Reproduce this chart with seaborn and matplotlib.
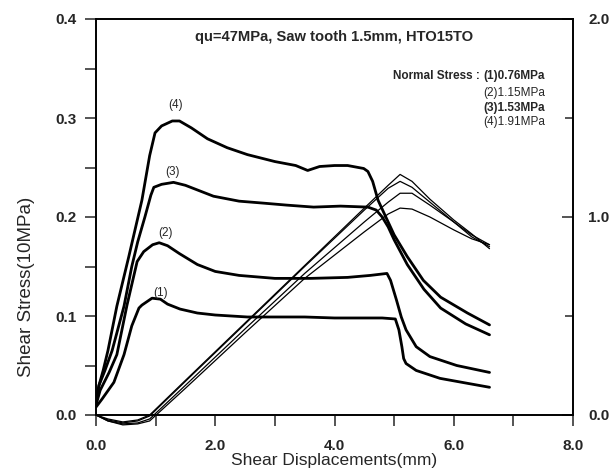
import numpy as np
import pandas as pd
import matplotlib
matplotlib.use("Agg")
import matplotlib.pyplot as plt
import seaborn as sns
from matplotlib.ticker import FixedLocator

# ---- data ----
# shear stress curves (10MPa) vs shear displacement (mm)
c1_x = [0, 0.1, 0.3, 0.47, 0.6, 0.72, 0.77, 0.94, 1.08, 1.2, 1.41, 1.7, 2.0, 2.54, 3.0, 3.5, 4.0, 4.49, 4.8, 5.02,
        5.08, 5.13, 5.16, 5.2, 5.37, 5.77, 6.23, 6.6]
c1_y = [0.008, 0.016, 0.033, 0.061, 0.09, 0.108, 0.111, 0.118, 0.117, 0.112, 0.107, 0.103, 0.101, 0.099, 0.099, 0.099,
        0.098, 0.098, 0.098, 0.097, 0.086, 0.069, 0.057, 0.052, 0.045, 0.037, 0.032, 0.028]

c2_x = [0, 0.07, 0.22, 0.35, 0.52, 0.69, 0.8, 0.95, 1.06, 1.2, 1.4, 1.7, 2.0, 2.4, 3.0, 3.6, 4.22, 4.6, 4.88,
        4.94, 5.04, 5.12, 5.2, 5.37, 5.6, 6.05, 6.6]
c2_y = [0.01, 0.025, 0.043, 0.061, 0.111, 0.155, 0.165, 0.172, 0.174, 0.171, 0.163, 0.152, 0.145, 0.141, 0.138, 0.138,
        0.139, 0.141, 0.143, 0.136, 0.116, 0.099, 0.086, 0.069, 0.059, 0.05, 0.043]

c3_x = [0, 0.05, 0.15, 0.27, 0.47, 0.6, 0.7, 0.82, 0.92, 0.97, 1.1, 1.3, 1.5, 1.97, 2.4, 2.81, 3.2, 3.65, 4.1, 4.56,
        4.7, 4.8, 4.9, 5.0, 5.22, 5.5, 5.78, 6.2, 6.6]
c3_y = [0.015, 0.03, 0.045, 0.065, 0.11, 0.15, 0.175, 0.2, 0.222, 0.23, 0.233, 0.235, 0.232, 0.221, 0.216, 0.214,
        0.212, 0.21, 0.211, 0.21, 0.207, 0.2, 0.19, 0.177, 0.152, 0.127, 0.108, 0.092, 0.081]

c4_x = [0, 0.05, 0.12, 0.2, 0.35, 0.55, 0.77, 0.9, 0.99, 1.1, 1.28, 1.4, 1.6, 1.87, 2.2, 2.54, 3.0, 3.35, 3.55, 3.75,
        4.0, 4.22, 4.49, 4.56, 4.64, 4.73, 4.83, 5.0, 5.22, 5.49, 5.78, 6.23, 6.6]
c4_y = [0.012, 0.03, 0.045, 0.065, 0.11, 0.16, 0.217, 0.262, 0.285, 0.292, 0.297, 0.297, 0.29, 0.279, 0.27, 0.263,
        0.256, 0.252, 0.247, 0.251, 0.252, 0.252, 0.249, 0.246, 0.236, 0.217, 0.204, 0.182, 0.16, 0.136, 0.119, 0.103,
        0.091]

# normal displacement curves (right axis units)
d_x = [0, 0.2, 0.45, 0.7, 0.9, 1.5, 2.5, 3.5, 4.5, 4.9, 5.1, 5.3, 5.6, 6.0, 6.3, 6.6]
d1_y = [0, -0.02, -0.035, -0.025, 0.0, 0.175, 0.465, 0.755, 1.045, 1.16, 1.215, 1.18, 1.09, 0.985, 0.915, 0.84]
d2_y = [0, -0.025, -0.04, -0.03, -0.005, 0.17, 0.46, 0.75, 1.035, 1.145, 1.18, 1.15, 1.075, 0.975, 0.9, 0.85]
d3_y = [0, -0.03, -0.045, -0.04, -0.02, 0.15, 0.435, 0.715, 0.975, 1.075, 1.12, 1.12, 1.06, 0.975, 0.91, 0.86]
d4_y = [0, -0.03, -0.05, -0.045, -0.03, 0.135, 0.415, 0.69, 0.925, 1.015, 1.045, 1.04, 1.0, 0.935, 0.89, 0.86]

peak_labels = ["(1)", "(2)", "(3)", "(4)"]
peak_lab_x = [1.08, 1.16, 1.29, 1.33]
peak_lab_y = [0.123, 0.184, 0.245, 0.313]

legend_head = "Normal Stress : "
legend_items = ["(1)0.76MPa", "(2)1.15MPa", "(3)1.53MPa", "(4)1.91MPa"]
title_text = "qu=47MPa, Saw tooth 1.5mm, HTO15TO"

# ---- build tables ----
stress = pd.concat([
    pd.DataFrame({"disp": x, "stress": y, "curve": name})
    for name, x, y in [("1", c1_x, c1_y), ("2", c2_x, c2_y), ("3", c3_x, c3_y), ("4", c4_x, c4_y)]
], ignore_index=True)
dil = pd.concat([
    pd.DataFrame({"disp": d_x, "dn": y, "curve": name})
    for name, y in [("1", d1_y), ("2", d2_y), ("3", d3_y), ("4", d4_y)]
], ignore_index=True)

sns.set_style("ticks")
plt.rcParams["font.family"] = ["Liberation Sans", "DejaVu Sans"]

fig = plt.figure(figsize=(6.12, 4.75), dpi=100)
ax = fig.add_axes([96 / 612, 1 - 415 / 475, (573 - 96) / 612, (415 - 19) / 475])
ax2 = ax.twinx()

sns.lineplot(data=stress, x="disp", y="stress", units="curve", estimator=None,
             sort=False, color="black", lw=2.0, ax=ax, legend=False)
sns.lineplot(data=dil, x="disp", y="dn", units="curve", estimator=None,
             sort=False, color="black", lw=0.9, ax=ax2, legend=False)
for ln in ax2.get_lines():
    ln.set_clip_on(False)

ax.set_xlim(0, 8)
ax.set_ylim(0, 0.4)
ax2.set_ylim(0, 2.0)

for a in (ax, ax2):
    for s in a.spines.values():
        s.set_linewidth(1.2)
        s.set_color("black")

ax.xaxis.set_major_locator(FixedLocator([0, 2, 4, 6, 8]))
ax.xaxis.set_minor_locator(FixedLocator([1, 3, 5, 7]))
ax.yaxis.set_major_locator(FixedLocator([0, 0.1, 0.2, 0.3, 0.4]))
ax.yaxis.set_minor_locator(FixedLocator([0.05, 0.15, 0.25, 0.35]))
ax.set_xticklabels(["0.0", "2.0", "4.0", "6.0", "8.0"], fontweight="bold")
ax.set_yticklabels(["0.0", "0.1", "0.2", "0.3", "0.4"], fontweight="bold")
ax.tick_params(axis="both", which="major", direction="out", length=8, width=1.1,
               labelsize=11, pad=6, top=False, right=False)
ax.tick_params(axis="both", which="minor", direction="out", length=8, width=1.1,
               top=False, right=False)
ax.tick_params(axis="x", which="major", pad=9)

ax2.yaxis.set_major_locator(FixedLocator([0, 1.0, 2.0]))
ax2.yaxis.set_minor_locator(FixedLocator([0.5, 1.5]))
ax2.set_yticklabels(["0.0", "1.0", "2.0"], fontweight="bold")
ax2.tick_params(axis="y", which="major", direction="in", length=8, width=1.1,
                labelsize=11, pad=11)
ax2.tick_params(axis="y", which="minor", direction="in", length=6, width=1.1)
ax2.set_ylabel("")

ax.set_xlabel("Shear Displacements(mm)", fontsize=12.5, labelpad=0)
ax.set_ylabel("Shear Stress(10MPa)", fontsize=13.5, labelpad=10)
ax.yaxis.set_label_coords(-0.128, 0.323)

ax.text(4.0, 0.382, title_text, ha="center", va="center", fontsize=10.6, fontweight="bold")

for t, xx, yy in zip(peak_labels, peak_lab_x, peak_lab_y):
    ax.text(xx, yy, t, ha="center", va="center", fontsize=8.5)

leg_x0 = 6.49
leg_y = [0.342, 0.325, 0.310, 0.296]
leg_w = ["bold", "normal", "bold", "normal"]
ax.text(leg_x0, leg_y[0], legend_head, ha="right", va="center", fontsize=8.5, fontweight="bold")
for t, yy, w in zip(legend_items, leg_y, leg_w):
    ax.text(leg_x0, yy, t, ha="left", va="center", fontsize=8.5, fontweight=w)

ax.set_zorder(ax2.get_zorder() + 1)
ax.patch.set_visible(False)

fig.savefig("out.png", dpi=100)
